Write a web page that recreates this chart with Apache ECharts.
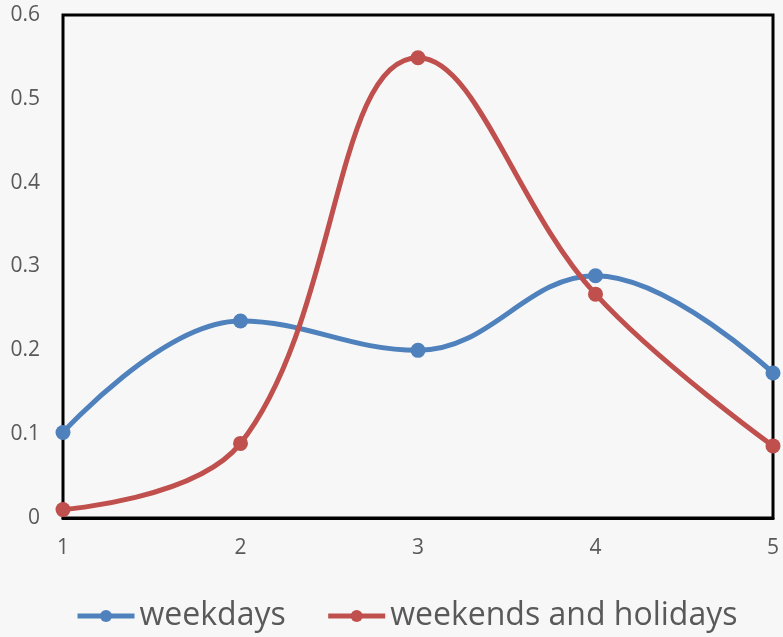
<!DOCTYPE html>
<html>
<head>
<meta charset="utf-8">
<script src="https://cdn.jsdelivr.net/npm/echarts@6/dist/echarts.min.js"></script>
<style>
  html, body { margin: 0; padding: 0; background: #f7f7f7; }
  #chart { width: 783px; height: 637px; }
</style>
</head>
<body>
<div id="chart"></div>
<script>
const categories = ["1", "2", "3", "4", "5"];
const weekdays = [0.102, 0.235, 0.2, 0.289, 0.173];
const weekendsHolidays = [0.01, 0.089, 0.549, 0.267, 0.086];
const yTicks = [0, 0.1, 0.2, 0.3, 0.4, 0.5, 0.6];

const chart = echarts.init(document.getElementById("chart"));
const font = "'Open Sans', sans-serif";

chart.setOption({
  backgroundColor: "#f7f7f7",
  animation: false,
  grid: {
    left: 63, right: 10, top: 15, bottom: 119,
    show: true, borderColor: "#000", borderWidth: 3
  },
  legend: {
    bottom: 0,
    left: 70,
    itemWidth: 57,
    itemHeight: 15,
    itemGap: 40,
    lineStyle: { width: 5 },
    textStyle: { fontFamily: font, fontSize: 32, color: "#595959", padding: [0, 0, 0, 0] },
    data: ["weekdays", "weekends and holidays"]
  },
  xAxis: {
    type: "category",
    boundaryGap: false,
    data: categories,
    axisLine: { lineStyle: { color: "#000", width: 3 } },
    axisTick: { show: false },
    axisLabel: { fontFamily: font, fontSize: 21, color: "#595959", margin: 20 },
    splitLine: { show: false }
  },
  yAxis: {
    type: "value",
    min: yTicks[0],
    max: yTicks[yTicks.length - 1],
    interval: 0.1,
    axisLine: { show: false },
    axisTick: { show: false },
    splitLine: { show: false },
    axisLabel: {
      fontFamily: font, fontSize: 21, color: "#595959", margin: 23,
      formatter: (v) => String(Math.round(v * 10) / 10)
    }
  },
  series: [
    {
      name: "weekdays",
      type: "line",
      smooth: 0.4,
      data: weekdays,
      symbol: "circle",
      symbolSize: 15,
      lineStyle: { width: 5, color: "#4f81bd" },
      itemStyle: { color: "#4f81bd" }
    },
    {
      name: "weekends and holidays",
      type: "line",
      smooth: 0.4,
      data: weekendsHolidays,
      symbol: "circle",
      symbolSize: 15,
      lineStyle: { width: 5, color: "#c0504d" },
      itemStyle: { color: "#c0504d" }
    }
  ]
});
</script>
</body>
</html>
